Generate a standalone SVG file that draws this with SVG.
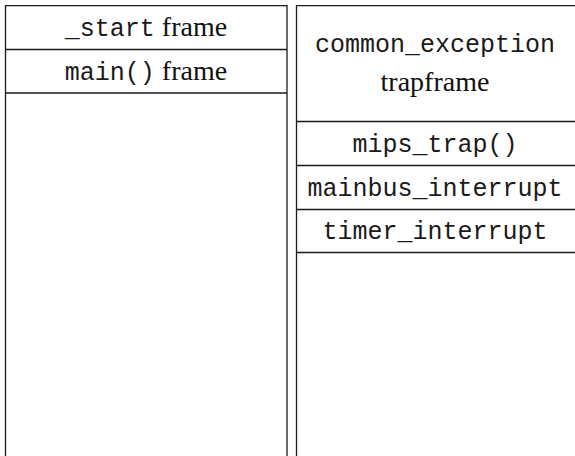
<svg xmlns="http://www.w3.org/2000/svg" width="575" height="456" viewBox="0 0 575 456">
  <style>
    .box { fill: none; stroke: #1a1a1a; stroke-width: 1.3; }
    .rule { stroke: #1a1a1a; stroke-width: 1.3; }
    .tt { font-family: "Liberation Mono", "DejaVu Sans Mono", monospace; font-size: 25px; fill: #1a1a1a; text-anchor: middle; }
    .rm { font-family: "Liberation Serif", "DejaVu Serif", serif; font-size: 28px; fill: #111; text-anchor: middle; }
  </style>
  <rect width="575" height="456" fill="#ffffff"/>

  <!-- left stack: process frames -->
  <g id="left-stack">
    <path class="box" d="M5.5,460 V5.7 H287 V460"/>
    <g id="start-frame">
      <line class="rule" x1="5.5" y1="49.5" x2="287" y2="49.5"/>
      <text x="146" y="36"><tspan class="tt">_start</tspan><tspan class="rm"> frame</tspan></text>
    </g>
    <g id="main-frame">
      <line class="rule" x1="5.5" y1="93" x2="287" y2="93"/>
      <text x="146" y="80"><tspan class="tt">main()</tspan><tspan class="rm"> frame</tspan></text>
    </g>
  </g>

  <!-- right stack: exception path frames -->
  <g id="right-stack">
    <path class="box" d="M296.5,460 V5.7 H580"/>
    <g id="trapframe">
      <line class="rule" x1="296.5" y1="121.5" x2="580" y2="121.5"/>
      <text class="tt" x="435" y="52">common_exception</text>
      <text class="rm" x="435" y="91">trapframe</text>
    </g>
    <g id="mips-trap">
      <line class="rule" x1="296.5" y1="165.5" x2="580" y2="165.5"/>
      <text class="tt" x="435" y="152">mips_trap()</text>
    </g>
    <g id="mainbus-interrupt">
      <line class="rule" x1="296.5" y1="209.5" x2="580" y2="209.5"/>
      <text class="tt" x="435" y="196">mainbus_interrupt</text>
    </g>
    <g id="timer-interrupt">
      <line class="rule" x1="296.5" y1="252.5" x2="580" y2="252.5"/>
      <text class="tt" x="435" y="239">timer_interrupt</text>
    </g>
  </g>

  <g id="connectors"></g>
</svg>
